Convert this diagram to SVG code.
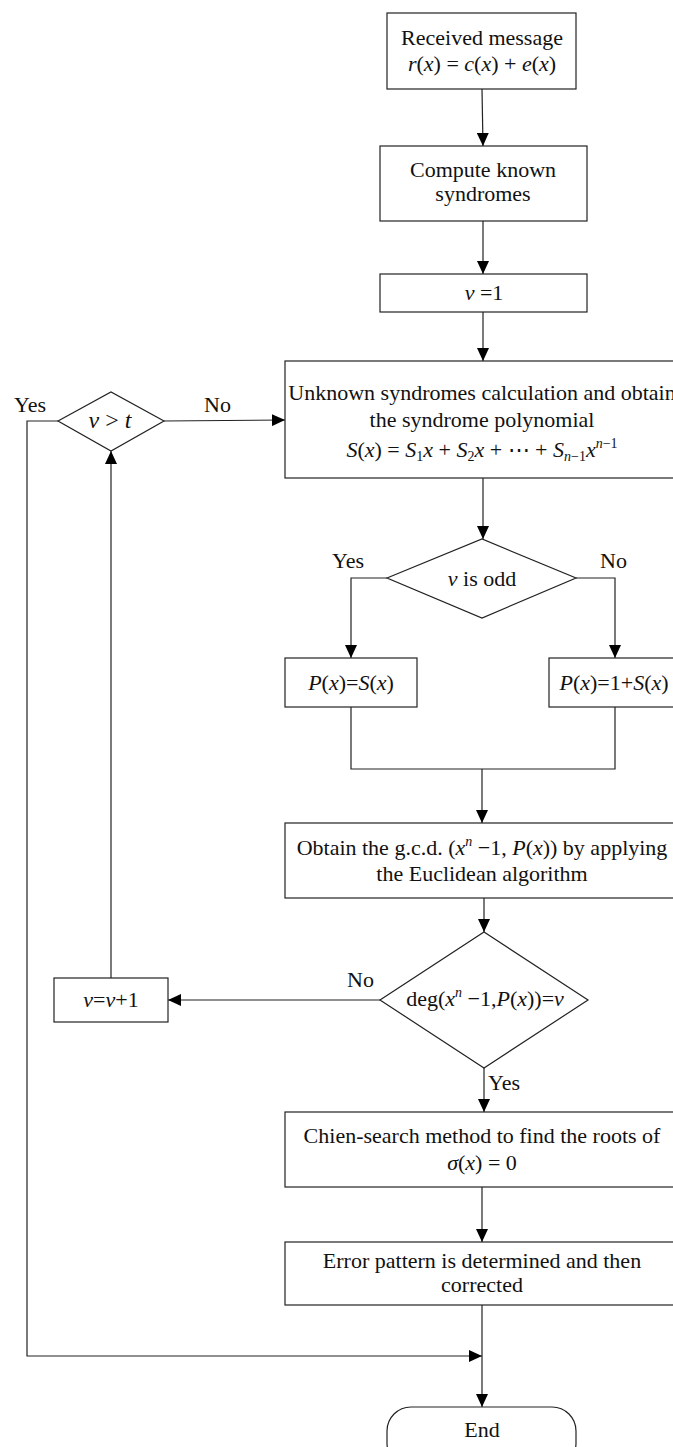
<svg xmlns="http://www.w3.org/2000/svg" width="673" height="1447" viewBox="0 0 673 1447">
<style>
  .box { fill: #fff; stroke: #222; stroke-width: 1.2; }
  .ln { fill: none; stroke: #222; stroke-width: 1.2; }
  text { font-family: "Liberation Serif", "Times New Roman", serif; font-size: 22px; fill: #111; }
  .c { text-anchor: middle; }
  .i { font-style: italic; }
  .sup { font-size: 14px; }
  .sub { font-size: 14px; }
</style>
<defs>
  <marker id="arr" viewBox="0 0 13 12" refX="13" refY="6" markerWidth="13" markerHeight="12" markerUnits="userSpaceOnUse" orient="auto">
    <path d="M0,0 L13,6 L0,12 z" fill="#000"/>
  </marker>
</defs>
<rect width="673" height="1447" fill="#fff"/>

<g id="connectors">
  <path class="ln" d="M482,89 L483,146" marker-end="url(#arr)"/>
  <path class="ln" d="M483,221 V274" marker-end="url(#arr)"/>
  <path class="ln" d="M483,312 V361" marker-end="url(#arr)"/>
  <path class="ln" d="M483,478 V539" marker-end="url(#arr)"/>
  <path class="ln" d="M387,578 H351 V658" marker-end="url(#arr)"/>
  <path class="ln" d="M576,578 H615 V658" marker-end="url(#arr)"/>
  <path class="ln" d="M351,707 V769 H615 V707"/>
  <path class="ln" d="M482,769 V823" marker-end="url(#arr)"/>
  <path class="ln" d="M484,898 V932" marker-end="url(#arr)"/>
  <path class="ln" d="M380,1000 H168" marker-end="url(#arr)"/>
  <path class="ln" d="M111,978 V451" marker-end="url(#arr)"/>
  <path class="ln" d="M164,421 L285,420" marker-end="url(#arr)"/>
  <path class="ln" d="M58,421 H27 V1356 H482" marker-end="url(#arr)"/>
  <path class="ln" d="M484,1068 V1112" marker-end="url(#arr)"/>
  <path class="ln" d="M482,1187 V1242" marker-end="url(#arr)"/>
  <path class="ln" d="M482,1305 V1407" marker-end="url(#arr)"/>
  <text x="14" y="412">Yes</text>
  <text x="204" y="412">No</text>
  <text x="332" y="568">Yes</text>
  <text x="600" y="568">No</text>
  <text x="347" y="987">No</text>
  <text x="488" y="1090">Yes</text>
</g>

<g id="received">
  <rect class="box" x="387" y="13" width="189" height="76"/>
  <text class="c" x="482" y="45">Received message</text>
  <text class="c" x="482" y="71"><tspan class="i">r</tspan>(<tspan class="i">x</tspan>) = <tspan class="i">c</tspan>(<tspan class="i">x</tspan>) + <tspan class="i">e</tspan>(<tspan class="i">x</tspan>)</text>
</g>

<g id="compute">
  <rect class="box" x="380" y="146" width="207" height="75"/>
  <text class="c" x="483" y="177">Compute known</text>
  <text class="c" x="483" y="201">syndromes</text>
</g>

<g id="v1">
  <rect class="box" x="380" y="274" width="207" height="38"/>
  <text class="c" x="484" y="300"><tspan class="i">v</tspan> =1</text>
</g>

<g id="unknown">
  <rect class="box" x="285" y="361" width="395" height="117"/>
  <text class="c" x="482" y="400">Unknown syndromes calculation and obtain</text>
  <text class="c" x="482" y="427">the syndrome polynomial</text>
  <text class="c" x="482" y="457"><tspan class="i">S</tspan>(<tspan class="i">x</tspan>) = <tspan class="i">S</tspan><tspan class="sub" dy="4">1</tspan><tspan class="i" dy="-4">x</tspan> + <tspan class="i">S</tspan><tspan class="sub" dy="4">2</tspan><tspan class="i" dy="-4">x</tspan> + ⋯ + <tspan class="i">S</tspan><tspan class="sub" dy="4"><tspan class="i">n</tspan>−1</tspan><tspan class="i" dy="-4">x</tspan><tspan class="sup" dy="-9"><tspan class="i">n</tspan>−1</tspan></text>
</g>

<g id="vgt">
  <path class="box" d="M58,421 L111,392 L164,421 L111,451 z"/>
  <text class="c" x="110" y="428" style="font-size:24px"><tspan class="i">v</tspan> &gt; <tspan class="i">t</tspan></text>
</g>

<g id="odd">
  <path class="box" d="M387,578 L482,539 L576,578 L482,618 z"/>
  <text class="c" x="482" y="586"><tspan class="i">v</tspan> is odd</text>
</g>

<g id="pss">
  <rect class="box" x="285" y="658" width="132" height="49"/>
  <text class="c" x="351" y="690"><tspan class="i">P</tspan>(<tspan class="i">x</tspan>)=<tspan class="i">S</tspan>(<tspan class="i">x</tspan>)</text>
</g>

<g id="p1s">
  <rect class="box" x="549" y="658" width="132" height="49"/>
  <text class="c" x="614" y="690"><tspan class="i">P</tspan>(<tspan class="i">x</tspan>)=1+<tspan class="i">S</tspan>(<tspan class="i">x</tspan>)</text>
</g>

<g id="gcd">
  <rect class="box" x="285" y="823" width="395" height="75"/>
  <text class="c" x="482" y="855">Obtain the g.c.d. (<tspan class="i">x</tspan><tspan class="sup" dy="-9"><tspan class="i">n</tspan></tspan><tspan dy="9"> −1, </tspan><tspan class="i">P</tspan>(<tspan class="i">x</tspan>)) by applying</text>
  <text class="c" x="482" y="881">the Euclidean algorithm</text>
</g>

<g id="deg">
  <path class="box" d="M380,1000 L484,932 L588,1000 L484,1068 z"/>
  <text class="c" x="485" y="1006">deg(<tspan class="i">x</tspan><tspan class="sup" dy="-9"><tspan class="i">n</tspan></tspan><tspan dy="9"> −1,</tspan><tspan class="i">P</tspan>(<tspan class="i">x</tspan>))=<tspan class="i">v</tspan></text>
</g>

<g id="vinc">
  <rect class="box" x="54" y="978" width="114" height="44"/>
  <text class="c" x="111" y="1007"><tspan class="i">v</tspan>=<tspan class="i">v</tspan>+1</text>
</g>

<g id="chien">
  <rect class="box" x="285" y="1112" width="395" height="75"/>
  <text class="c" x="482" y="1143">Chien-search method to find the roots of</text>
  <text class="c" x="482" y="1170"><tspan class="i">σ</tspan>(<tspan class="i">x</tspan>) = 0</text>
</g>

<g id="error">
  <rect class="box" x="285" y="1242" width="395" height="63"/>
  <text class="c" x="482" y="1268">Error pattern is determined and then</text>
  <text class="c" x="482" y="1292">corrected</text>
</g>

<g id="end">
  <rect class="box" x="387" y="1407" width="189" height="60" rx="24" ry="24"/>
  <text class="c" x="482" y="1437">End</text>
</g>
</svg>
